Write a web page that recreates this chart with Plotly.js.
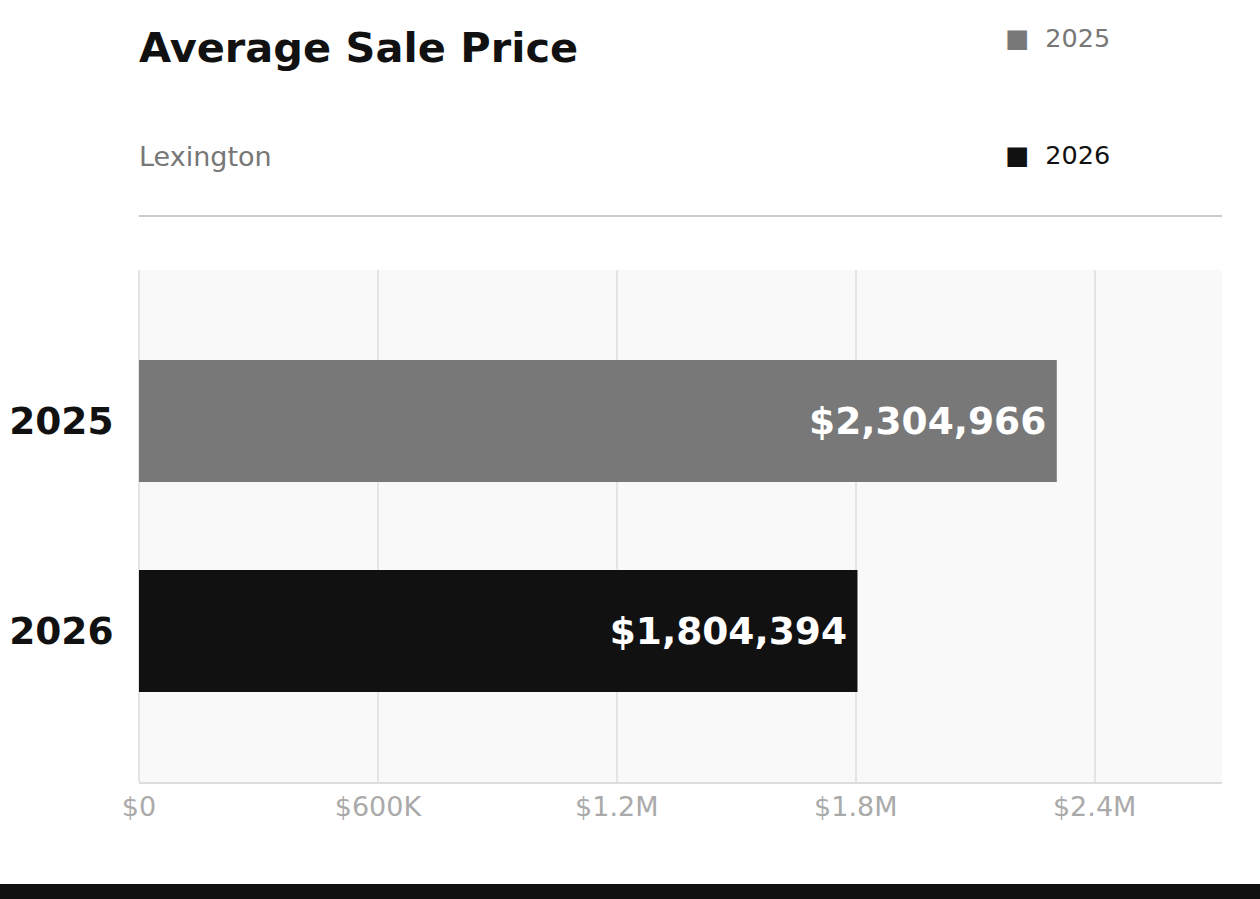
<!DOCTYPE html>
<html>
<head>
<meta charset="utf-8">
<script src="https://cdn.plot.ly/plotly-3.0.1.min.js"></script>
<style>html,body{margin:0;padding:0;background:#fff;overflow:hidden}#chart{width:1260px;height:899px}</style>
</head>
<body>
<div id="chart"></div>
<script>
const categories = ['2025', '2026'];
const values = [2304966, 1804394];
const barColors = ['#787878', '#111111'];
const legendTextColors = ['#777777', '#111111'];
const tickVals = [0, 600000, 1200000, 1800000, 2400000];
const tickLabels = ['$0', '$600K', '$1.2M', '$1.8M', '$2.4M'];
const titleText = 'Average Sale Price';
const subtitleText = 'Lexington';

const FONT = 'DejaVu Sans, sans-serif';

const traces = categories.map((c, i) => ({
  type: 'bar',
  orientation: 'h',
  name: c,
  y: [c],
  x: [values[i]],
  width: 0.58,
  marker: {color: barColors[i]},
  text: ['$' + values[i].toLocaleString('en-US') + '\u2009'],
  textposition: 'inside',
  insidetextanchor: 'end',
  textfont: {family: FONT, size: 37.5, color: '#ffffff', weight: 'bold'},
  hoverinfo: 'skip',
  showlegend: false
}));

const legendAnns = categories.map((c, i) => ({
  xref: 'paper', yref: 'paper',
  x: 0.8, xanchor: 'left', xshift: -2,
  y: (782 - [38, 155][i]) / 512, yanchor: 'middle',
  text: '<span style="color:' + barColors[i] + '">■</span>  ' + c,
  showarrow: false,
  font: {family: FONT, size: 25.5, color: legendTextColors[i]}
}));

const layout = {
  width: 1260, height: 899,
  margin: {l: 139, r: 38, t: 270, b: 117},
  paper_bgcolor: '#ffffff',
  plot_bgcolor: '#f9f9f9',
  barmode: 'overlay',
  showlegend: false,
  font: {family: FONT},
  title: {
    text: '<b>' + titleText + '</b>',
    xref: 'paper', x: 0, xanchor: 'left',
    yref: 'container', y: 1 - 47 / 899, yanchor: 'middle',
    font: {family: FONT, size: 41.5, color: '#111111'}
  },
  xaxis: {
    range: [0, values[0] * 1.18],
    tickvals: tickVals,
    ticktext: tickLabels,
    showgrid: true,
    gridcolor: '#e4e4e4',
    gridwidth: 2,
    zeroline: true,
    zerolinecolor: '#e4e4e4',
    zerolinewidth: 2,
    showline: true,
    linecolor: '#dddddd',
    linewidth: 2,
    ticks: '',
    tickfont: {family: FONT, size: 27, color: '#aaaaaa'},
    fixedrange: true
  },
  yaxis: {
    type: 'category',
    categoryarray: categories,
    range: [1.719, -0.719],
    showgrid: false,
    zeroline: false,
    showline: false,
    ticks: 'outside', ticklen: 17, tickcolor: 'rgba(0,0,0,0)',
    tickfont: {family: FONT, size: 37.5, color: '#111111', weight: 'bold'},
    fixedrange: true
  },
  annotations: [
    {
      xref: 'paper', yref: 'paper', x: 0, xanchor: 'left', xshift: -2,
      y: (782 - 156) / 512, yanchor: 'middle',
      text: subtitleText, showarrow: false,
      font: {family: FONT, size: 27, color: '#777777'}
    }
  ].concat(legendAnns),
  shapes: [
    {type: 'line', xref: 'paper', yref: 'paper', x0: 0, x1: 1,
     y0: (782 - 216) / 512, y1: (782 - 216) / 512,
     line: {color: '#cccccc', width: 2}},
    {type: 'rect', xref: 'paper', yref: 'paper',
     x0: -139 / 1083, x1: (1260 - 139) / 1083,
     y0: (782 - 884) / 512, y1: (782 - 905) / 512,
     fillcolor: '#111111', line: {width: 0}}
  ]
};

Plotly.newPlot('chart', traces, layout, {displayModeBar: false, staticPlot: true});
</script>
</body>
</html>
